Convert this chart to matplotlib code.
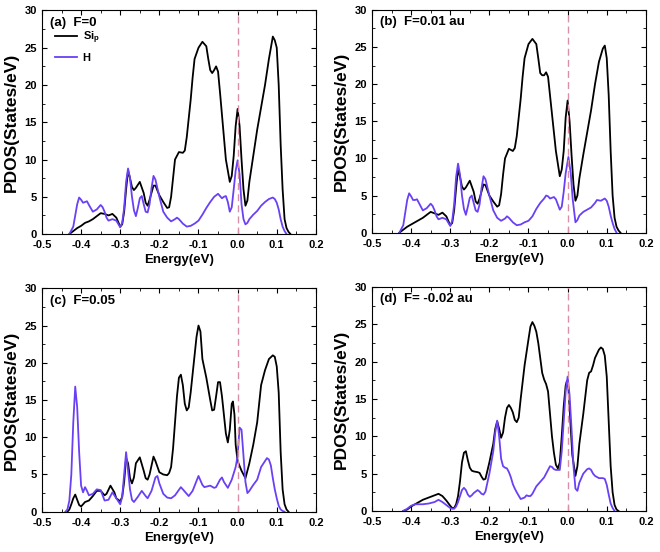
import numpy as np
import matplotlib
matplotlib.use('Agg')
import matplotlib.pyplot as plt
from matplotlib.ticker import MultipleLocator

plt.rcParams['font.family'] = ['Liberation Sans', 'DejaVu Sans']
plt.rcParams['font.weight'] = 'bold'

# (a) F=0
a_si_x = [-0.43, -0.42, -0.41, -0.40, -0.39, -0.38, -0.37, -0.36, -0.35, -0.34, -0.33, -0.32, -0.31, -0.30, -0.295, -0.29, -0.285, -0.28, -0.275, -0.27, -0.265, -0.26, -0.25, -0.24, -0.235, -0.23, -0.225, -0.215, -0.21, -0.20, -0.19, -0.18, -0.175, -0.17, -0.165, -0.16, -0.15, -0.14, -0.135, -0.13, -0.125, -0.12, -0.115, -0.11, -0.10, -0.09, -0.08, -0.075, -0.07, -0.065, -0.06, -0.055, -0.05, -0.045, -0.04, -0.03, -0.02, -0.015, -0.01, -0.005, 0.0, 0.005, 0.01, 0.015, 0.02, 0.025, 0.03, 0.04, 0.05, 0.06, 0.07, 0.08, 0.09, 0.095, 0.10, 0.105, 0.11, 0.115, 0.12, 0.125, 0.13, 0.135]
a_si_y = [0.0, 0.4, 0.8, 1.1, 1.5, 1.7, 2.0, 2.4, 2.8, 2.7, 2.5, 2.7, 2.2, 1.0, 1.3, 3.0, 6.0, 8.5, 7.5, 6.3, 5.9, 6.2, 7.0, 5.5, 4.2, 3.8, 4.6, 6.5, 6.5, 5.2, 4.3, 3.5, 3.6, 5.0, 7.5, 10.0, 11.0, 10.9, 11.2, 13.0, 15.5, 18.0, 21.0, 23.5, 25.0, 25.8, 25.2, 23.5, 22.0, 21.6, 22.0, 22.5, 21.8, 19.0, 16.0, 10.0, 7.0, 7.8, 10.5, 14.5, 16.8, 14.5, 10.0, 6.0, 3.8, 4.5, 7.0, 10.5, 14.0, 17.0, 20.0, 23.5, 26.5, 26.0, 25.0, 20.0, 12.0, 6.0, 2.0, 0.8, 0.3, 0.0]
a_h_x = [-0.43, -0.42, -0.415, -0.41, -0.405, -0.40, -0.395, -0.39, -0.385, -0.38, -0.37, -0.36, -0.35, -0.345, -0.34, -0.335, -0.33, -0.32, -0.31, -0.30, -0.295, -0.29, -0.285, -0.28, -0.275, -0.27, -0.265, -0.26, -0.255, -0.25, -0.245, -0.24, -0.235, -0.23, -0.225, -0.22, -0.215, -0.21, -0.20, -0.19, -0.18, -0.17, -0.16, -0.155, -0.15, -0.14, -0.13, -0.12, -0.11, -0.10, -0.09, -0.08, -0.07, -0.06, -0.05, -0.04, -0.035, -0.03, -0.025, -0.02, -0.015, -0.01, -0.005, 0.0, 0.005, 0.01, 0.015, 0.02, 0.025, 0.03, 0.04, 0.05, 0.06, 0.07, 0.08, 0.09, 0.095, 0.10, 0.105, 0.11, 0.115, 0.12, 0.125]
a_h_y = [0.0, 1.0, 2.5, 4.0, 4.9, 4.6, 4.2, 4.3, 4.4, 3.9, 3.0, 3.3, 3.9, 3.6, 3.0, 2.2, 1.8, 2.0, 1.8, 0.9, 1.5, 3.5, 7.0, 8.8, 7.5, 5.0, 3.2, 2.4, 3.5, 4.8, 5.1, 4.0, 3.0, 2.9, 4.0, 6.2, 7.8, 7.3, 5.0, 3.0, 2.2, 1.7, 2.0, 2.2, 2.0, 1.4, 1.0, 1.1, 1.4, 1.8, 2.6, 3.5, 4.3, 5.0, 5.4, 4.8, 5.0, 5.1, 4.3, 3.0, 3.6, 6.0, 8.5, 9.9, 8.0, 4.0, 2.0, 1.3, 1.5, 2.0, 2.6, 3.1, 3.8, 4.3, 4.7, 4.9, 4.7, 4.2, 3.3, 2.0, 1.0, 0.4, 0.0]

# (b) F=0.01 au
b_si_x = [-0.43, -0.42, -0.41, -0.40, -0.39, -0.38, -0.37, -0.36, -0.35, -0.34, -0.33, -0.32, -0.31, -0.30, -0.295, -0.29, -0.285, -0.28, -0.275, -0.27, -0.265, -0.26, -0.25, -0.24, -0.235, -0.23, -0.225, -0.215, -0.21, -0.20, -0.19, -0.18, -0.175, -0.17, -0.165, -0.16, -0.15, -0.14, -0.135, -0.13, -0.125, -0.12, -0.115, -0.11, -0.10, -0.09, -0.08, -0.075, -0.07, -0.065, -0.06, -0.055, -0.05, -0.045, -0.04, -0.03, -0.02, -0.015, -0.01, -0.005, 0.0, 0.005, 0.01, 0.015, 0.02, 0.025, 0.03, 0.04, 0.05, 0.06, 0.07, 0.08, 0.09, 0.095, 0.10, 0.105, 0.11, 0.115, 0.12, 0.125, 0.13, 0.135]
b_si_y = [0.0, 0.4, 0.8, 1.1, 1.4, 1.7, 2.0, 2.4, 2.8, 2.6, 2.4, 2.7, 2.2, 1.0, 1.3, 3.0, 6.0, 8.6, 7.5, 6.2, 5.8, 6.1, 7.0, 5.5, 4.2, 3.9, 4.6, 6.5, 6.4, 5.0, 4.2, 3.5, 3.7, 5.2, 7.8, 10.0, 11.3, 11.0, 11.4, 13.0, 15.5, 18.0, 21.0, 23.5, 25.4, 26.1, 25.4, 23.5, 21.5, 21.2, 21.2, 21.6, 21.0, 18.5, 16.0, 11.0, 7.6, 8.5, 11.0, 15.5, 17.8, 15.0, 10.5, 6.5, 4.3, 5.0, 7.3, 10.5, 13.5, 16.5, 20.0, 23.0, 24.8, 25.2, 23.5, 18.5, 11.0, 5.0, 2.0, 0.8, 0.3, 0.0]
b_h_x = [-0.43, -0.42, -0.415, -0.41, -0.405, -0.40, -0.395, -0.39, -0.385, -0.38, -0.37, -0.36, -0.35, -0.345, -0.34, -0.335, -0.33, -0.32, -0.31, -0.30, -0.295, -0.29, -0.285, -0.28, -0.275, -0.27, -0.265, -0.26, -0.255, -0.25, -0.245, -0.24, -0.235, -0.23, -0.225, -0.22, -0.215, -0.21, -0.20, -0.19, -0.18, -0.17, -0.16, -0.155, -0.15, -0.14, -0.13, -0.12, -0.11, -0.10, -0.09, -0.08, -0.07, -0.06, -0.055, -0.05, -0.045, -0.04, -0.035, -0.03, -0.025, -0.02, -0.015, -0.01, -0.005, 0.002, 0.008, 0.013, 0.02, 0.025, 0.03, 0.04, 0.05, 0.06, 0.07, 0.075, 0.085, 0.095, 0.10, 0.105, 0.11, 0.115, 0.12, 0.125]
b_h_y = [0.0, 1.0, 2.7, 4.4, 5.3, 4.9, 4.4, 4.4, 4.5, 4.0, 3.0, 3.3, 3.9, 3.6, 3.0, 2.2, 1.8, 2.0, 1.8, 0.9, 1.6, 3.8, 7.5, 9.3, 7.8, 5.0, 3.2, 2.4, 3.5, 4.7, 5.0, 4.0, 3.0, 2.8, 3.8, 6.0, 7.6, 7.2, 5.0, 3.0, 2.0, 1.6, 1.9, 2.2, 2.0, 1.4, 1.0, 1.1, 1.4, 1.6, 2.2, 3.2, 4.0, 4.6, 5.0, 4.9, 4.6, 4.7, 4.8, 4.5, 3.8, 3.1, 3.5, 5.5, 8.0, 10.2, 8.0, 4.5, 1.4, 1.7, 2.3, 2.8, 3.1, 3.4, 4.0, 4.4, 4.3, 4.6, 4.3, 3.5, 2.3, 1.3, 0.5, 0.0]

# (c) F=0.05
c_si_x = [-0.435, -0.43, -0.425, -0.42, -0.415, -0.41, -0.405, -0.40, -0.39, -0.38, -0.37, -0.36, -0.35, -0.34, -0.335, -0.325, -0.315, -0.31, -0.30, -0.295, -0.29, -0.285, -0.28, -0.275, -0.27, -0.265, -0.26, -0.25, -0.24, -0.235, -0.23, -0.225, -0.215, -0.21, -0.20, -0.19, -0.18, -0.175, -0.17, -0.165, -0.16, -0.155, -0.15, -0.145, -0.14, -0.135, -0.13, -0.125, -0.12, -0.115, -0.11, -0.105, -0.10, -0.095, -0.09, -0.08, -0.075, -0.07, -0.065, -0.06, -0.055, -0.05, -0.045, -0.04, -0.035, -0.03, -0.025, -0.02, -0.015, -0.012, -0.008, -0.005, 0.0, 0.01, 0.02, 0.03, 0.04, 0.05, 0.06, 0.07, 0.08, 0.09, 0.095, 0.10, 0.105, 0.11, 0.115, 0.12, 0.125, 0.13]
c_si_y = [0.0, 0.3, 1.0, 1.8, 2.3, 1.6, 0.9, 0.7, 1.3, 1.5, 2.1, 2.8, 2.8, 2.2, 2.4, 3.5, 2.6, 1.8, 1.4, 2.0, 4.0, 7.2, 6.5, 4.5, 3.8, 4.6, 6.5, 7.3, 5.5, 4.5, 4.3, 5.0, 7.4, 6.8, 5.3, 5.0, 4.9, 5.2, 6.0, 8.5, 12.0, 15.5, 18.0, 18.4, 17.0, 14.5, 13.6, 14.0, 16.0, 18.5, 21.0, 23.5, 25.0, 24.2, 20.5, 18.0, 16.5, 15.0, 13.6, 13.7, 15.5, 17.4, 17.4, 15.5, 13.0, 10.5, 9.3, 11.0, 14.5, 14.8, 13.0, 9.0, 6.8, 5.5, 4.5, 6.5, 9.0, 12.0, 17.0, 19.0, 20.5, 21.0, 20.8, 19.5, 16.0, 8.0, 3.0, 1.0, 0.3, 0.0]
c_h_x = [-0.44, -0.435, -0.43, -0.425, -0.42, -0.415, -0.41, -0.405, -0.40, -0.395, -0.39, -0.385, -0.38, -0.37, -0.36, -0.35, -0.345, -0.34, -0.33, -0.32, -0.31, -0.30, -0.295, -0.29, -0.285, -0.28, -0.275, -0.27, -0.265, -0.255, -0.245, -0.235, -0.23, -0.22, -0.21, -0.205, -0.20, -0.19, -0.18, -0.17, -0.16, -0.145, -0.135, -0.125, -0.115, -0.10, -0.09, -0.085, -0.07, -0.06, -0.055, -0.045, -0.04, -0.035, -0.025, -0.015, -0.005, 0.0, 0.005, 0.01, 0.015, 0.02, 0.025, 0.03, 0.04, 0.05, 0.06, 0.07, 0.075, 0.08, 0.085, 0.09, 0.095, 0.10, 0.105, 0.11, 0.115, 0.12]
c_h_y = [0.0, 0.3, 1.5, 5.0, 12.0, 16.8, 14.0, 8.0, 3.5, 2.6, 3.3, 2.8, 2.2, 2.4, 3.0, 2.9, 2.2, 1.5, 1.6, 2.6, 1.8, 1.0, 2.0, 5.0, 8.0, 5.5, 3.0, 1.6, 1.3, 2.0, 2.8, 2.1, 1.8, 2.8, 4.6, 4.8, 3.8, 2.4, 1.9, 1.8, 2.2, 3.3, 2.7, 2.1, 2.8, 4.8, 3.6, 3.3, 3.5, 3.2, 3.3, 4.3, 4.6, 4.0, 3.2, 4.3, 6.0, 7.5, 11.3, 11.0, 7.5, 4.0, 2.5, 2.8, 3.6, 4.3, 6.0, 6.8, 7.2, 7.0, 6.2, 4.5, 3.0, 1.8, 0.8, 0.3, 0.1, 0.0]

# (d) F= -0.02 au
d_si_x = [-0.42, -0.41, -0.40, -0.39, -0.38, -0.37, -0.36, -0.35, -0.34, -0.33, -0.32, -0.31, -0.30, -0.295, -0.29, -0.285, -0.28, -0.275, -0.27, -0.265, -0.26, -0.255, -0.25, -0.245, -0.24, -0.23, -0.225, -0.22, -0.215, -0.21, -0.20, -0.19, -0.185, -0.18, -0.175, -0.17, -0.165, -0.16, -0.155, -0.15, -0.145, -0.14, -0.135, -0.13, -0.125, -0.12, -0.11, -0.10, -0.095, -0.09, -0.085, -0.08, -0.075, -0.07, -0.065, -0.06, -0.055, -0.05, -0.045, -0.04, -0.035, -0.03, -0.025, -0.02, -0.015, -0.01, -0.005, -0.002, 0.002, 0.007, 0.012, 0.02, 0.025, 0.03, 0.04, 0.05, 0.055, 0.06, 0.065, 0.07, 0.08, 0.085, 0.09, 0.095, 0.10, 0.105, 0.11, 0.115, 0.12, 0.125, 0.13]
d_si_y = [0.0, 0.2, 0.6, 0.9, 1.2, 1.5, 1.7, 1.9, 2.1, 2.3, 2.0, 1.4, 0.7, 0.4, 0.4, 0.9, 2.0, 4.0, 6.5, 7.8, 8.0, 6.8, 5.8, 5.4, 5.3, 5.2, 5.1, 4.6, 4.2, 4.3, 6.5, 9.0, 11.0, 12.0, 11.0, 9.8, 10.5, 12.5, 13.8, 14.2, 13.8, 13.2, 12.2, 11.9, 12.5, 15.0, 19.5, 23.0, 24.7, 25.3, 24.8, 24.0, 22.5, 20.5, 18.5, 17.6, 17.0, 16.0, 13.0, 10.0, 7.8, 6.2, 5.7, 6.5, 10.0, 14.0, 16.8, 17.4, 16.5, 12.0, 7.5, 4.7, 6.0, 9.0, 13.0, 17.5, 18.5, 18.7, 19.5, 20.5, 21.6, 21.9, 21.7, 20.8, 18.0, 12.0, 6.0, 2.5, 0.8, 0.2, 0.0]
d_h_x = [-0.42, -0.41, -0.40, -0.39, -0.38, -0.37, -0.355, -0.34, -0.33, -0.32, -0.31, -0.30, -0.295, -0.29, -0.285, -0.28, -0.275, -0.27, -0.265, -0.26, -0.255, -0.25, -0.245, -0.24, -0.23, -0.225, -0.22, -0.215, -0.21, -0.20, -0.195, -0.19, -0.185, -0.18, -0.175, -0.17, -0.165, -0.16, -0.155, -0.15, -0.145, -0.14, -0.135, -0.13, -0.12, -0.11, -0.105, -0.10, -0.095, -0.09, -0.08, -0.07, -0.06, -0.05, -0.045, -0.04, -0.035, -0.03, -0.02, -0.015, -0.01, -0.005, 0.0, 0.005, 0.01, 0.015, 0.02, 0.025, 0.03, 0.04, 0.05, 0.055, 0.06, 0.065, 0.07, 0.08, 0.09, 0.095, 0.10, 0.105, 0.11, 0.115, 0.12]
d_h_y = [0.0, 0.3, 0.7, 0.9, 0.9, 0.9, 1.0, 1.2, 1.5, 1.2, 0.8, 0.4, 0.3, 0.3, 0.6, 1.2, 2.0, 2.8, 3.1, 2.8, 2.2, 1.9, 2.1, 2.4, 2.8, 2.6, 2.3, 2.2, 2.6, 5.0, 6.5, 8.0, 10.5, 12.1, 10.0, 7.0, 6.0, 5.8, 5.7, 5.2, 4.5, 3.6, 3.0, 2.5, 1.6, 1.8, 2.1, 2.0, 2.0, 2.3, 3.3, 3.9, 4.5, 5.5, 6.0, 5.9, 5.6, 5.5, 5.5, 8.0, 12.0, 16.0, 18.0, 15.5, 11.0, 6.0, 3.0, 2.7, 3.8, 5.0, 5.6, 5.7, 5.5, 5.0, 4.7, 4.4, 4.4, 4.3, 3.5, 2.2, 1.0, 0.4, 0.0]

x_ticks = [-0.5, -0.4, -0.3, -0.2, -0.1, 0.0, 0.1, 0.2]
x_tick_labels = ['-0.5', '-0.4', '-0.3', '-0.2', '-0.1', '0.0', '0.1', '0.2']

panels = [
    ('(a)  F=0', a_si_x, a_si_y, a_h_x, a_h_y),
    ('(b)  F=0.01 au', b_si_x, b_si_y, b_h_x, b_h_y),
    ('(c)  F=0.05', c_si_x, c_si_y, c_h_x, c_h_y),
    ('(d)  F= -0.02 au', d_si_x, d_si_y, d_h_x, d_h_y),
]

# axes rectangles (figure fractions)
rects = [
    [0.0636, 0.576, 0.415, 0.405],
    [0.5636, 0.5785, 0.415, 0.4035],
    [0.0636, 0.073, 0.415, 0.4047],
    [0.5636, 0.0743, 0.415, 0.4058],
]

blue = '#6a40f5'
fig = plt.figure(figsize=(6.6, 5.52), dpi=100)

for i, (title, sx, sy, hx, hy) in enumerate(panels):
    ax = fig.add_axes(rects[i])
    ax.plot(sx, sy, color='black', lw=1.3, label='Si$_\\mathregular{p}$')
    ax.plot(hx, hy, color=blue, lw=1.3, label='H')
    ax.axvline(0.0, color='#d890a8', lw=1.0, ls=(0, (5, 3)))
    ax.set_xlim(-0.5, 0.2)
    ax.set_ylim(0, 30)
    ax.set_xticks(x_ticks)
    ax.set_xticklabels(x_tick_labels)
    ax.xaxis.set_minor_locator(MultipleLocator(0.05))
    ax.yaxis.set_major_locator(MultipleLocator(5))
    ax.yaxis.set_minor_locator(MultipleLocator(2.5))
    ax.tick_params(which='both', direction='in', top=True, right=True, labelsize=8)
    ax.tick_params(axis='x', pad=4.5)
    ax.tick_params(axis='y', pad=3.5)
    ax.tick_params(which='major', length=3.5)
    ax.tick_params(which='minor', length=2)
    for lab in ax.get_xticklabels() + ax.get_yticklabels():
        lab.set_fontweight('bold')
    ax.set_xlabel('Energy(eV)', fontsize=9.5, fontweight='bold', labelpad=3)
    ax.set_ylabel('PDOS(States/eV)', fontsize=12.5, fontweight='bold', labelpad=4)
    ax.text(0.029, 0.945, title, transform=ax.transAxes, fontsize=9.5,
            fontweight='bold', va='center', ha='left')
    if i == 0:
        ax.legend(loc='upper left', bbox_to_anchor=(0.047, 0.915), frameon=False,
                  handlelength=2.0, handletextpad=0.5, labelspacing=0.6,
                  borderpad=0, borderaxespad=0, prop={'weight': 'bold', 'size': 8})

fig.savefig('out.png', dpi=100)
